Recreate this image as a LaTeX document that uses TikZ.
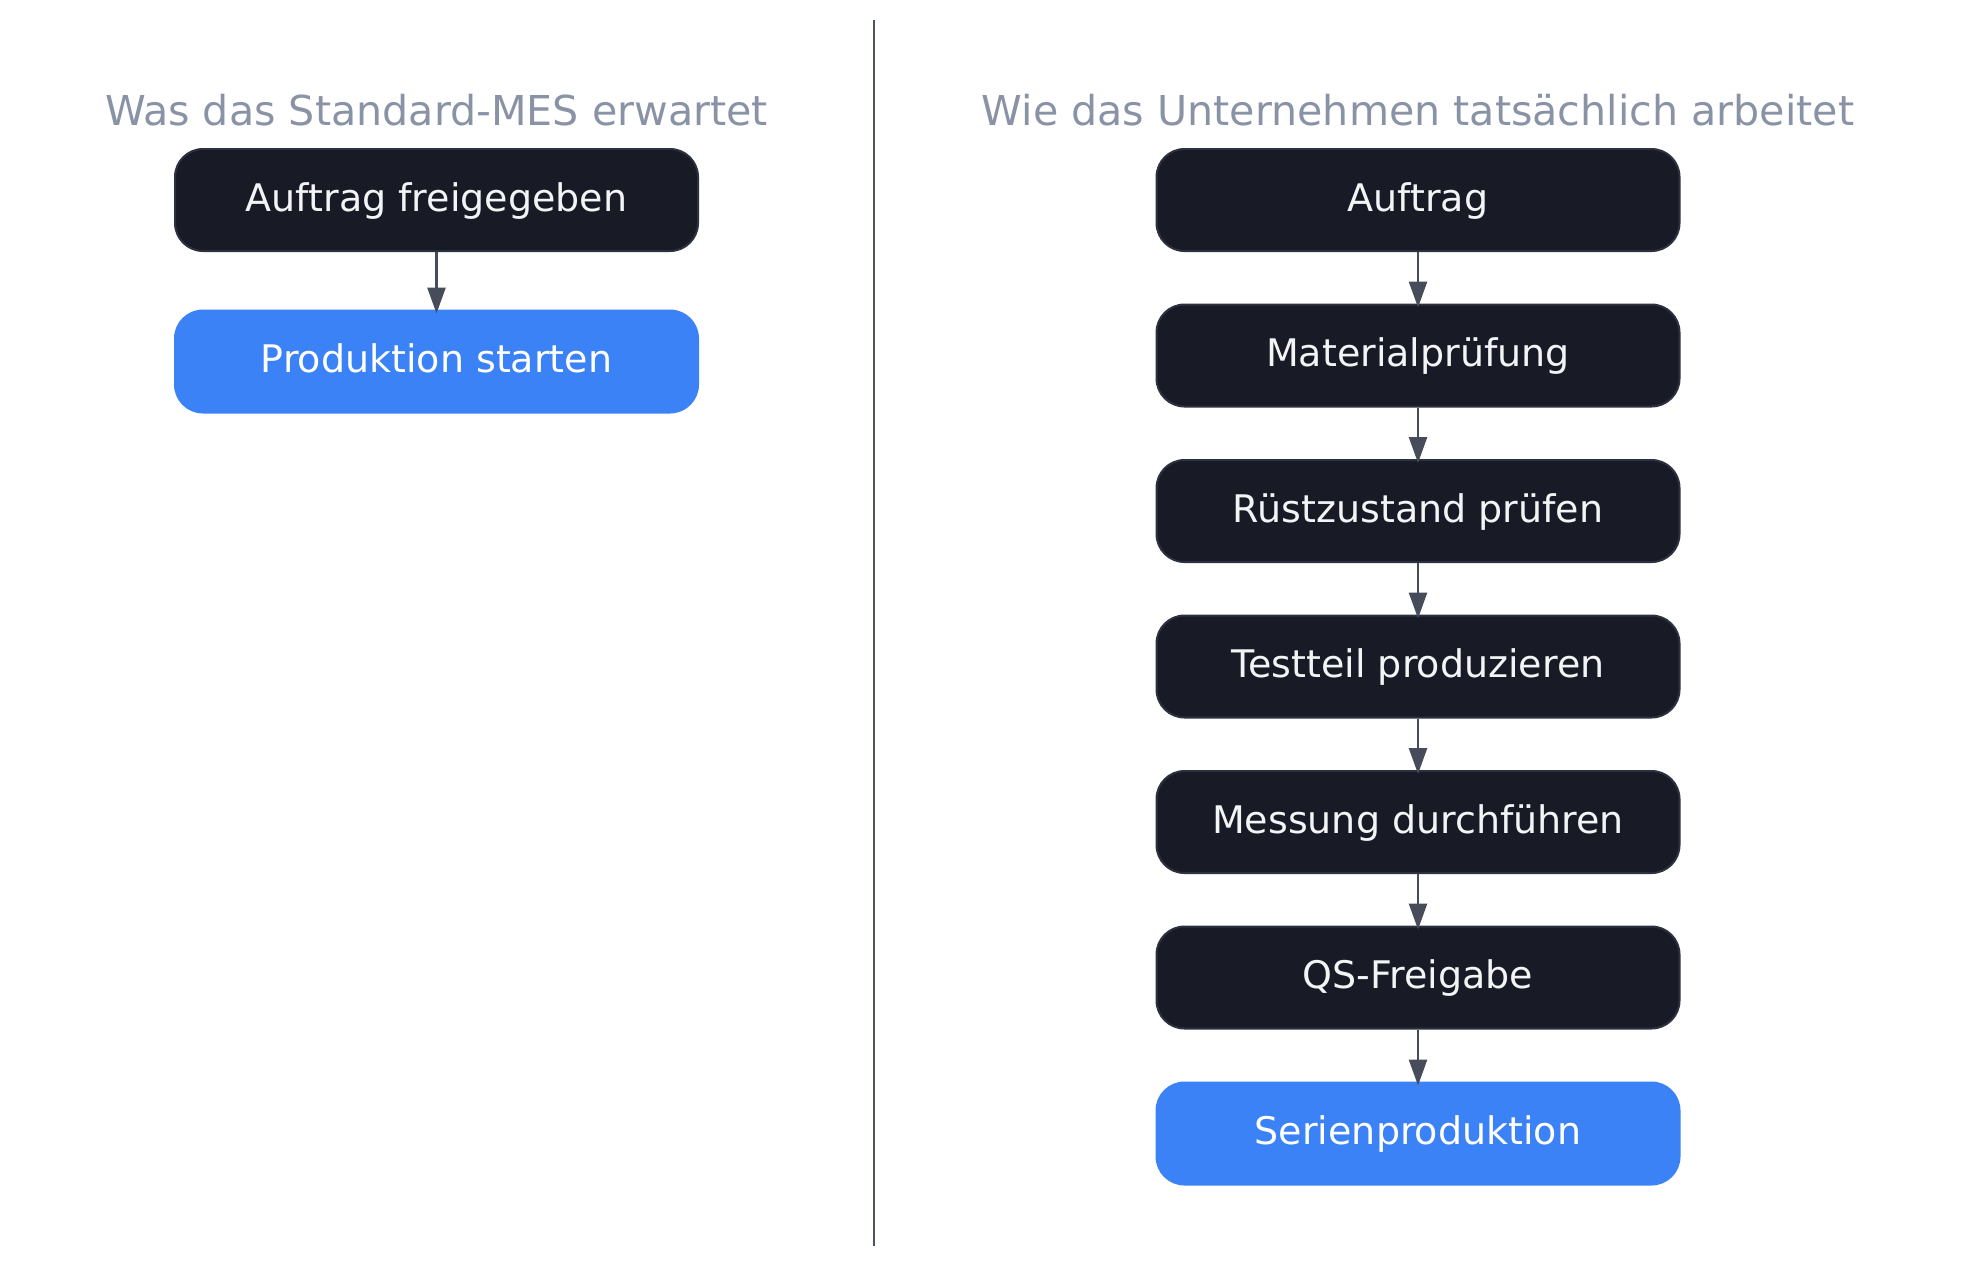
\documentclass[tikz,border=0pt]{standalone}
\usepackage{fontspec}
\setmainfont{DejaVu Sans}
\usetikzlibrary{arrows.meta}
\definecolor{boxdark}{HTML}{181B26}
\definecolor{boxborder}{HTML}{2C3140}
\definecolor{boxblue}{HTML}{3B82F6}
\definecolor{arrowgray}{HTML}{474C5A}
\definecolor{titlegray}{HTML}{8A93A6}
\definecolor{divgray}{HTML}{4B5263}
\definecolor{textwhite}{HTML}{F3F4F6}
\tikzset{
  x=0.5pt, y=-0.5pt,
  stepbox/.style={draw=boxborder, fill=boxdark, line width=1pt, rounded corners=14pt,
    minimum width=261.5pt, minimum height=51pt, inner sep=0pt,
    text=textwhite, font=\fontsize{19pt}{23pt}\selectfont,
    text height=14pt, text depth=3pt},
  endbox/.style={stepbox, draw=boxblue, fill=boxblue, text=white},
  coltitle/.style={text=titlegray, font=\fontsize{20.6pt}{24pt}\selectfont, anchor=base, inner sep=0pt},
  flow/.style={draw=arrowgray, line width=1.3pt, shorten >=-2pt, -{Triangle[length=13pt,width=9pt]}},
}
\begin{document}
\begin{tikzpicture}
\useasboundingbox (0,0) rectangle (1963,1265);
% divider
\coordinate (dtop) at (874,20);
\coordinate (dbot) at (874,1246);
\draw[divgray, line width=1pt] (dtop) -- (dbot);
% titles
\node[coltitle] (tl) at (436.5,125) {Was das Standard-MES erwartet};
\node[coltitle] (tr) at (1418,125) {Wie das Unternehmen tatsächlich arbeitet};
% left column
\node[stepbox] (l1) at (436.5,200) {Auftrag freigegeben};
\node[endbox] (l2) at (436.5,361.5) {Produktion starten};
\draw[flow] (l1) -- (l2);
% right column
\node[stepbox] (r1) at (1418,200) {Auftrag};
\node[stepbox] (r2) at (1418,355.5) {Materialprüfung};
\node[stepbox] (r3) at (1418,511) {Rüstzustand prüfen};
\node[stepbox] (r4) at (1418,666.5) {Testteil produzieren};
\node[stepbox] (r5) at (1418,822) {Messung durchführen};
\node[stepbox] (r6) at (1418,977.5) {QS-Freigabe};
\node[endbox] (r7) at (1418,1133.5) {Serienproduktion};
\draw[flow] (r1) -- (r2);
\draw[flow] (r2) -- (r3);
\draw[flow] (r3) -- (r4);
\draw[flow] (r4) -- (r5);
\draw[flow] (r5) -- (r6);
\draw[flow] (r6) -- (r7);
\end{tikzpicture}
\end{document}
